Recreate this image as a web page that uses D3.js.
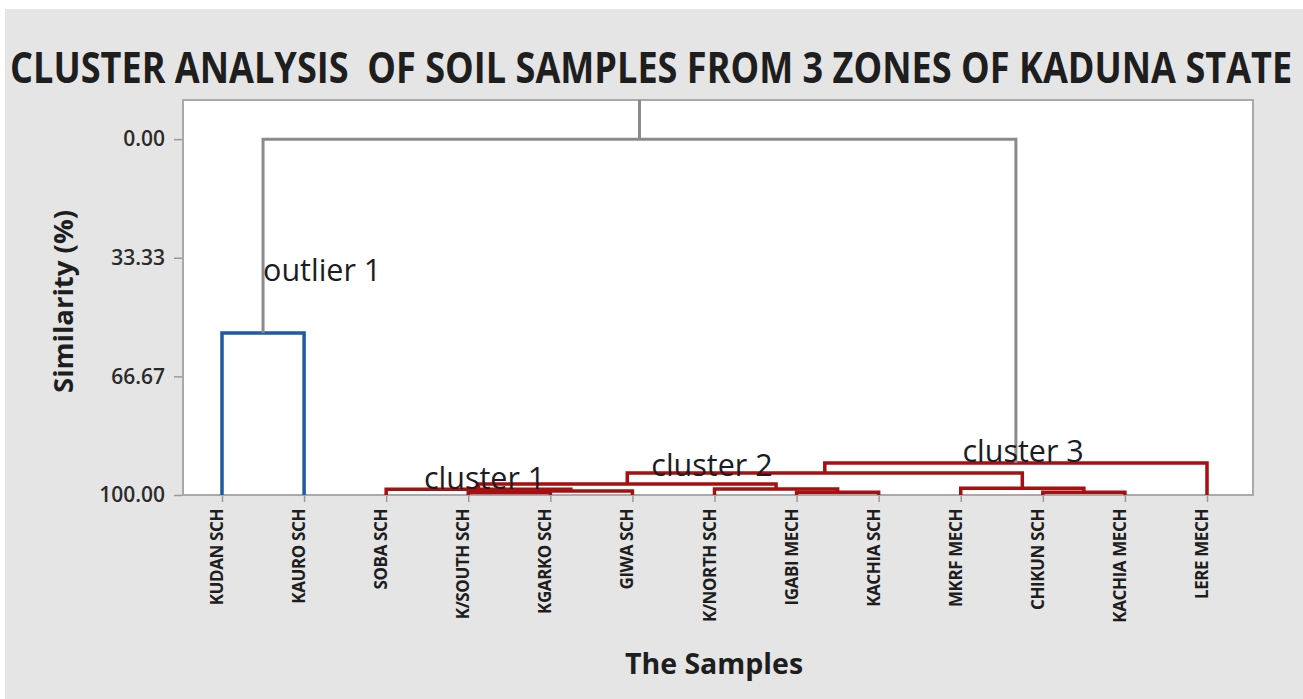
<!DOCTYPE html>
<html>
<head>
<meta charset="utf-8">
<script src="https://cdn.jsdelivr.net/npm/d3@7"></script>
<style>
  html, body { margin: 0; padding: 0; background: #ffffff; }
  svg { display: block; }
</style>
</head>
<body>
<svg id="chart" width="1303" height="699"></svg>
<script>
"use strict";

// samples in dendrogram order
var samples = ["KUDAN SCH", "KAURO SCH", "SOBA SCH", "K/SOUTH SCH", "KGARKO SCH", "GIWA SCH",
    "K/NORTH SCH", "IGABI MECH", "KACHIA SCH", "MKRF MECH", "CHIKUN SCH", "KACHIA MECH", "LERE MECH"];

// samples that form the outlier group (drawn blue)
var outliers = ["KUDAN SCH", "KAURO SCH"];

// amalgamation steps: [child a, child b, similarity %]
// a child < 13 is a sample index, otherwise 13 + step number
var merges = [
    [3, 4, 99.3],     // 13
    [10, 11, 99.2],   // 14
    [7, 8, 99.2],     // 15
    [13, 5, 98.9],    // 16
    [2, 16, 98.4],    // 17
    [6, 15, 98.3],    // 18
    [9, 14, 98.1],    // 19
    [17, 18, 96.9],   // 20
    [20, 19, 93.8],   // 21
    [21, 12, 91.0],   // 22
    [0, 1, 54.5],     // 23
    [23, 22, 0.0]     // 24
];

var yTicks = [0, 33.33, 66.67, 100];
var yDomain = [-11, 100];

// labels written on the plot: text, position in sample units, similarity level
var notes = [
    { text: "outlier 1", at: 0.5, sim: 39.9 },
    { text: "cluster 1", at: 2.46, sim: 98.2 },
    { text: "cluster 2", at: 5.23, sim: 94.6 },
    { text: "cluster 3", at: 9.02, sim: 90.7 }
];

var title = "CLUSTER ANALYSIS  OF SOIL SAMPLES FROM 3 ZONES OF KADUNA STATE";

var svg = d3.select("#chart");
var W = 1303, H = 699;
var plot = { left: 183, right: 1253, top: 100, bottom: 495 };

var GRAY = "#8a8a8a", BLUE = "#1d5ba6", RED = "#a80f10";

// background
svg.append("rect").attr("x", 5).attr("y", 9).attr("width", W - 5).attr("height", H - 9)
    .attr("fill", "#e5e5e5");

// title: narrow and tall like the original, fitted to the width
var titleText = svg.append("text")
    .attr("transform", "translate(10,83) scale(1,1.2)")
    .style("white-space", "pre")
    .style("font-family", "'Open Sans', sans-serif")
    .style("font-weight", 700).style("font-size", "36px")
    .attr("fill", "#1e1e1e")
    .text(title);
var tw = titleText.node().getComputedTextLength();
var sx = 1282 / tw;
titleText.attr("transform", "translate(10,83) scale(" + sx + "," + (sx * 1.2 < 1.2 ? 1.2 : sx * 1.2) + ")");

// plot area
svg.append("rect")
    .attr("x", plot.left).attr("y", plot.top)
    .attr("width", plot.right - plot.left).attr("height", plot.bottom - plot.top)
    .attr("fill", "#ffffff").attr("stroke", "#a9a9a9").attr("stroke-width", 2);

// scales
var x = d3.scalePoint().domain(samples).range([222, 1207]);
var xi = d3.scaleLinear().domain([0, samples.length - 1]).range([x(samples[0]), x(samples[samples.length - 1])]);
var y = d3.scaleLinear().domain(yDomain).range([plot.top, plot.bottom]);

// y axis
var yAxis = d3.axisLeft(y).tickValues(yTicks).tickFormat(d3.format(".2f")).tickSize(8).tickPadding(9);
var gy = svg.append("g").attr("transform", "translate(" + (plot.left - 1) + ",0)").call(yAxis);
gy.select(".domain").remove();
gy.selectAll(".tick line").attr("stroke", "#9a9a9a").attr("stroke-width", 1.5);
gy.selectAll(".tick text")
    .style("font-family", "'Open Sans', sans-serif")
    .style("font-weight", 600).style("font-size", "21px")
    .attr("fill", "#2b2b2b");

// x axis
var xAxis = d3.axisBottom(x).tickSize(6).tickFormat("");
var gx = svg.append("g").attr("transform", "translate(0," + (plot.bottom + 1) + ")").call(xAxis);
gx.select(".domain").remove();
gx.selectAll(".tick line").attr("stroke", "#9a9a9a").attr("stroke-width", 1.5);

svg.append("g").selectAll("text")
    .data(samples)
    .enter()
    .append("text")
    .attr("transform", function(d) { return "translate(" + (x(d) + 1) + ",509) rotate(-90)"; })
    .attr("text-anchor", "end")
    .style("font-family", "'Open Sans', sans-serif")
    .style("font-weight", 700).style("font-size", "17px")
    .style("letter-spacing", "-0.4px")
    .attr("fill", "#1e1e1e")
    .text(function(d) { return d; });

// axis titles
svg.append("text")
    .attr("transform", "translate(73," + ((plot.top + plot.bottom) / 2 + 4) + ") rotate(-90)")
    .attr("text-anchor", "middle")
    .style("font-family", "'Open Sans', sans-serif")
    .style("font-weight", 700).style("font-size", "27.5px")
    .attr("fill", "#1e1e1e")
    .text("Similarity (%)");

svg.append("text")
    .attr("x", 714).attr("y", 674)
    .attr("text-anchor", "middle")
    .style("font-family", "'Open Sans', sans-serif")
    .style("font-weight", 700).style("font-size", "28.5px")
    .attr("fill", "#1e1e1e")
    .text("The Samples");

// build the tree nodes from the merge table
var nodes = samples.map(function(s) {
    return { x: x(s), y: y(100), leaves: [s] };
});
merges.forEach(function(m) {
    var a = nodes[m[0]], b = nodes[m[1]];
    nodes.push({
        x: (a.x + b.x) / 2,
        y: y(m[2]),
        a: a, b: b,
        leaves: a.leaves.concat(b.leaves)
    });
});

function linkColor(n) {
    var nOut = n.leaves.filter(function(l) { return outliers.indexOf(l) >= 0; }).length;
    if (nOut === n.leaves.length) return BLUE;
    if (nOut === 0) return RED;
    return GRAY;
}

var links = nodes.filter(function(n) { return n.a; });

svg.append("g").selectAll("path")
    .data(links)
    .enter()
    .append("path")
    .attr("d", function(n) {
        return "M" + n.a.x + "," + n.a.y + "V" + n.y + "H" + n.b.x + "V" + n.b.y;
    })
    .attr("fill", "none")
    .attr("stroke", linkColor)
    .attr("stroke-width", function(n) { return linkColor(n) === GRAY ? 3 : 3.5; });

// stub above the root
var root = nodes[nodes.length - 1];
svg.append("line")
    .attr("x1", root.x).attr("x2", root.x)
    .attr("y1", root.y).attr("y2", y(yDomain[0]))
    .attr("stroke", GRAY).attr("stroke-width", 3);

// annotations
svg.append("g").selectAll("text")
    .data(notes)
    .enter()
    .append("text")
    .attr("x", function(d) { return xi(d.at); })
    .attr("y", function(d) { return y(d.sim); })
    .style("font-family", "'Open Sans', sans-serif")
    .style("font-weight", 500).style("font-size", "30.5px")
    .attr("fill", "#1c1c24")
    .text(function(d) { return d.text; });
</script>
</body>
</html>
